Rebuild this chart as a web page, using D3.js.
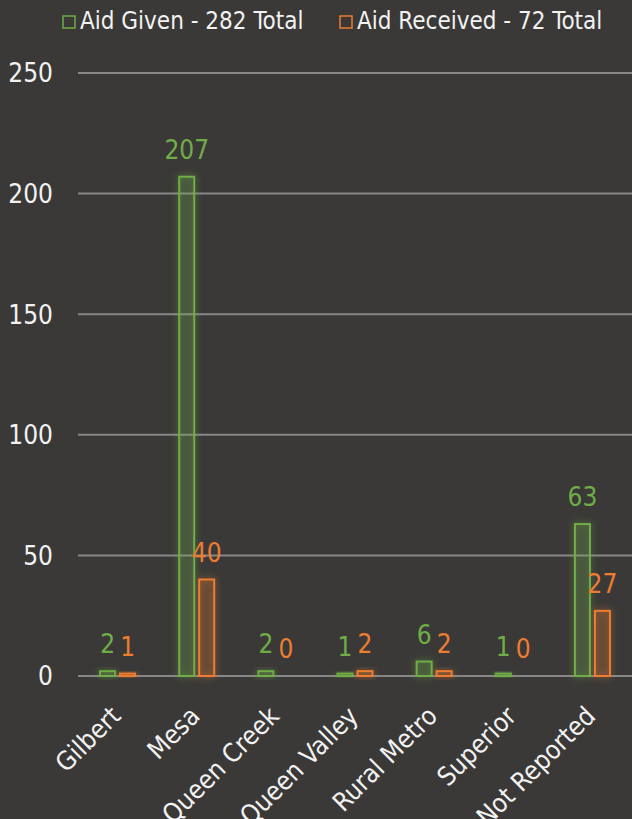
<!DOCTYPE html>
<html>
<head>
<meta charset="utf-8">
<script src="https://cdn.jsdelivr.net/npm/d3@7"></script>
<style>
  html, body { margin: 0; padding: 0; background: #3a3937; }
  svg { display: block; font-family: "DejaVu Sans Condensed", "DejaVu Sans", sans-serif; }
</style>
</head>
<body>
<div class="chart"></div>
<script>
var categories = ["Gilbert", "Mesa", "Queen Creek", "Queen Valley", "Rural Metro", "Superior", "Not Reported"];
var aidGiven = [2, 207, 2, 1, 6, 1, 63];
var aidReceived = [1, 40, 0, 2, 2, 0, 27];
var seriesNames = ["Aid Given - 282 Total", "Aid Received - 72 Total"];
var yTicks = [0, 50, 100, 150, 200, 250];

var width = 632, height = 819;
var colors = ["#70ad47", "#ed7d31"];
var fills = ["rgba(112,173,71,0.15)", "rgba(237,125,49,0.15)"];

var svg = d3.select(".chart").append("svg")
    .attr("width", width)
    .attr("height", height);

svg.append("rect").attr("width", width).attr("height", height).attr("fill", "#3a3937");

var defs = svg.append("defs");
colors.forEach(function(c, i) {
    var f = defs.append("filter").attr("id", "glow" + i)
        .attr("x", "-80%").attr("y", "-80%").attr("width", "260%").attr("height", "260%");
    f.append("feGaussianBlur").attr("in", "SourceGraphic").attr("stdDeviation", 3.5).attr("result", "b");
    f.append("feComponentTransfer").attr("in", "b").attr("result", "bb")
        .append("feFuncA").attr("type", "linear").attr("slope", 0.7);
    var m = f.append("feMerge");
    m.append("feMergeNode").attr("in", "bb");
    m.append("feMergeNode").attr("in", "SourceGraphic");
});

var x = d3.scaleBand().domain(categories).range([78, 632]);
var y = d3.scaleLinear().domain([0, 250]).range([676, 73]);

// gridlines
svg.append("g").selectAll("line")
    .data(yTicks)
    .enter().append("line")
    .attr("x1", 78).attr("x2", 632)
    .attr("y1", function(d) { return y(d); })
    .attr("y2", function(d) { return y(d); })
    .attr("stroke", "#878787")
    .attr("stroke-width", 2);

// y labels
svg.append("g").selectAll("text")
    .data(yTicks)
    .enter().append("text")
    .attr("x", 53)
    .attr("y", function(d) { return y(d); })
    .attr("dy", "0.36em")
    .attr("text-anchor", "end")
    .attr("fill", "#f2f2f2")
    .style("font-size", "26px")
    .text(function(d) { return d; });

var series = [aidGiven, aidReceived];
var barW = 15, offsets = [-17.5, 2.5];

series.forEach(function(vals, si) {
    var g = svg.append("g");
    g.selectAll("rect")
        .data(vals.map(function(v, i) { return { cat: categories[i], v: v }; }).filter(function(d) { return d.v > 0; }))
        .enter().append("rect")
        .attr("x", function(d) { return x(d.cat) + x.bandwidth() / 2 + offsets[si]; })
        .attr("y", function(d) { return y(d.v); })
        .attr("width", barW)
        .attr("height", function(d) { return y(0) - y(d.v); })
        .attr("fill", fills[si])
        .attr("stroke", colors[si])
        .attr("stroke-width", 2)
        .attr("filter", "url(#glow" + si + ")");

    svg.append("g").selectAll("text")
        .data(vals.map(function(v, i) { return { cat: categories[i], v: v }; }))
        .enter().append("text")
        .attr("x", function(d) { return x(d.cat) + x.bandwidth() / 2 + offsets[si] + barW / 2; })
        .attr("y", function(d) { return y(d.v) - 18; })
        .attr("text-anchor", "middle")
        .attr("fill", colors[si])
        .style("font-size", "26px")
        .text(function(d) { return d.v; });
});

// category labels
svg.append("g").selectAll("text")
    .data(categories)
    .enter().append("text")
    .attr("transform", function(d) {
        return "translate(" + (x(d) + x.bandwidth() / 2 - 2) + ",711) rotate(-45)";
    })
    .attr("text-anchor", "end")
    .attr("dy", "0.36em")
    .attr("fill", "#f2f2f2")
    .style("font-size", "26px")
    .text(function(d) { return d; });

// legend
var legendX = [62, 339];
seriesNames.forEach(function(name, i) {
    svg.append("rect")
        .attr("x", legendX[i] + 1).attr("y", 16)
        .attr("width", 12).attr("height", 12)
        .attr("fill", "none")
        .attr("stroke", colors[i])
        .attr("stroke-width", 1.5);
    svg.append("text")
        .attr("x", legendX[i] + 18).attr("y", 29)
        .attr("fill", "#f2f2f2")
        .style("font-size", "24px")
        .text(name);
});
</script>
</body>
</html>
